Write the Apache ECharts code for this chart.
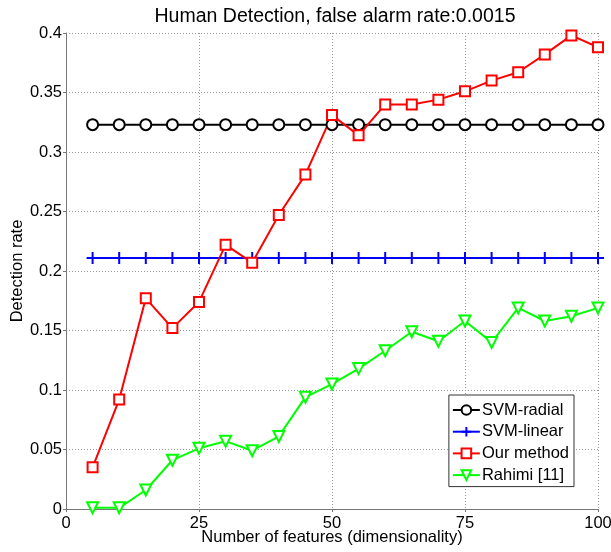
<!DOCTYPE html>
<html><head><meta charset="utf-8">
<script src="https://cdn.jsdelivr.net/npm/echarts@6/dist/echarts.min.js"></script>
<style>html,body{margin:0;padding:0;background:#fff}#c{width:611px;height:552px}</style>
</head><body><div id="c"></div>
<script>
const features = [5,10,15,20,25,30,35,40,45,50,55,60,65,70,75,80,85,90,95,100];
const svmRadial = [0.323,0.323,0.323,0.323,0.323,0.323,0.323,0.323,0.323,0.323,0.323,0.323,0.323,0.323,0.323,0.323,0.323,0.323,0.323,0.323];
const svmLinear = [0.211,0.211,0.211,0.211,0.211,0.211,0.211,0.211,0.211,0.211,0.211,0.211,0.211,0.211,0.211,0.211,0.211,0.211,0.211,0.211];
const ourMethod = [0.035,0.092,0.177,0.152,0.174,0.222,0.207,0.247,0.281,0.331,0.314,0.340,0.340,0.344,0.351,0.360,0.367,0.382,0.398,0.388];
const rahimi = [0.001,0.001,0.016,0.041,0.051,0.057,0.049,0.061,0.094,0.105,0.118,0.133,0.149,0.141,0.158,0.140,0.169,0.158,0.162,0.169];
const FONT = 'Liberation Sans';
const chart = echarts.init(document.getElementById('c'));
function pairs(arr){ return features.map((x,i)=>[x,arr[i]]); }
function mk(name, data, color, symbol, size, rotate){
  return {name, type:'line', data:pairs(data), symbol, symbolSize:size, symbolRotate:rotate||0,
    lineStyle:{color, width:2}, itemStyle:{color: symbol.startsWith('path')?color:'#fff', borderColor:color, borderWidth:2},
    emphasis:{disabled:true}};
}
const gridLine = {show:true, lineStyle:{type:[1,2], color:'#999', width:1}};
chart.setOption({
  animation:false,
  textStyle:{fontFamily:FONT},
  title:{text:'Human Detection, false alarm rate:0.0015', top:2, left:330, textAlign:'center',
    textStyle:{fontFamily:FONT, fontSize:19.5, fontWeight:'normal', color:'#000'}},
  grid:{left:66, right:13, top:33, bottom:43, outerBoundsMode:'none', containLabel:false},
  legend:{right:37, top:395, orient:'vertical', itemGap:4.7, itemWidth:27, itemHeight:12, padding:[6.5,5,3,3],
    borderColor:'#333', borderWidth:1, backgroundColor:'#fff',
    textStyle:{fontFamily:FONT, fontSize:16.5, lineHeight:17, color:'#000', padding:[0,0,0,-3]},
    data:['SVM-radial','SVM-linear','Our method','Rahimi [11]']},
  xAxis:{type:'value', min:0, max:100, interval:25, name:'Number of features (dimensionality)', nameLocation:'middle', nameGap:20,
    nameMoveOverlap:false,
    nameTextStyle:{fontFamily:FONT, fontSize:16.5, color:'#000'},
    axisLine:{lineStyle:{color:'#777'}}, axisTick:{inside:false, length:3, lineStyle:{color:'#777'}},
    axisLabel:{fontFamily:FONT, fontSize:16.5, color:'#000', margin:6},
    splitLine:gridLine},
  yAxis:{type:'value', min:0, max:0.4, interval:0.05, name:'Detection rate', nameLocation:'middle', nameGap:40,
    nameMoveOverlap:false,
    nameTextStyle:{fontFamily:FONT, fontSize:16.5, color:'#000'},
    axisLine:{show:true, lineStyle:{color:'#777'}}, axisTick:{show:true, inside:false, length:3, lineStyle:{color:'#777'}},
    axisLabel:{fontFamily:FONT, fontSize:16.5, color:'#000', margin:4},
    splitLine:gridLine},
  series:[
    mk('SVM-radial', svmRadial, '#000000', 'circle', 11),
    mk('SVM-linear', svmLinear, '#0000ff', 'path://M-1,0L1,0M0,-1L0,1', 12),
    mk('Our method', ourMethod, '#ff0000', 'rect', 10),
    mk('Rahimi [11]', rahimi, '#00ff00', 'triangle', 11, 180)
  ]
});
</script></body></html>
